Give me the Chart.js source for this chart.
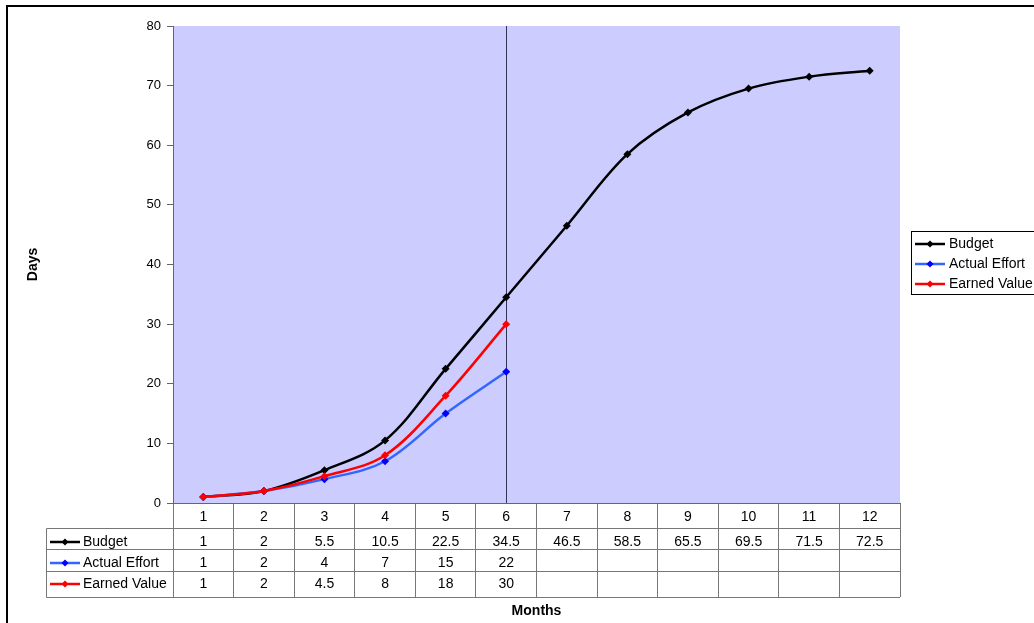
<!DOCTYPE html>
<html>
<head>
<meta charset="utf-8">
<style>
  html, body { margin: 0; padding: 0; background: #ffffff; }
  canvas { display: block; }
</style>
<script src="https://cdn.jsdelivr.net/npm/chart.js@4.4.1/dist/chart.umd.min.js"></script>
</head>
<body>
<canvas id="c" width="1034" height="623"></canvas>
<script>
// ---- data ----
const months = ['1', '2', '3', '4', '5', '6', '7', '8', '9', '10', '11', '12'];
const budget = [1, 2, 5.5, 10.5, 22.5, 34.5, 46.5, 58.5, 65.5, 69.5, 71.5, 72.5];
const actualEffort = [1, 2, 4, 7, 15, 22, null, null, null, null, null, null];
const earnedValue = [1, 2, 4.5, 8, 18, 30, null, null, null, null, null, null];
const seriesNames = ['Budget', 'Actual Effort', 'Earned Value'];
const statusMonth = '6';
const yMin = 0, yMax = 80, yStep = 10;

const FONT = "'Liberation Sans', Arial, sans-serif";
Chart.defaults.font.family = FONT;

const lineColors = ['#000000', '#3366FF', '#FF0000'];
const markColors = ['#000000', '#0000FF', '#FF0000'];
const seriesData = [budget, actualEffort, earnedValue];

function drawDiamond(ctx, x, y, r, color) {
  ctx.beginPath();
  ctx.moveTo(x, y - r);
  ctx.lineTo(x + r, y);
  ctx.lineTo(x, y + r);
  ctx.lineTo(x - r, y);
  ctx.closePath();
  ctx.fillStyle = color;
  ctx.fill();
}
function drawSample(ctx, x0, x1, y, i) {
  ctx.save();
  ctx.strokeStyle = lineColors[i];
  ctx.lineWidth = 2.5;
  ctx.beginPath();
  ctx.moveTo(x0, y);
  ctx.lineTo(x1, y);
  ctx.stroke();
  drawDiamond(ctx, (x0 + x1) / 2, y, 3.5, markColors[i]);
  ctx.restore();
}

const decor = {
  id: 'decor',
  beforeDraw(chart) {
    const {ctx, chartArea: a} = chart;
    ctx.save();
    ctx.fillStyle = '#CCCCFF';
    ctx.fillRect(a.left, a.top, a.right - a.left, a.bottom - a.top);
    ctx.restore();
  },
  beforeDatasetsDraw(chart) {
    const {ctx, chartArea: a, scales} = chart;
    const x = Math.round(scales.x.getPixelForValue(months.indexOf(statusMonth))) + 0.5;
    ctx.save();
    ctx.strokeStyle = '#333355';
    ctx.lineWidth = 1;
    ctx.beginPath();
    ctx.moveTo(x, a.top);
    ctx.lineTo(x, a.bottom);
    ctx.stroke();
    ctx.restore();
  },
  afterDraw(chart) {
    const {ctx, chartArea: a, scales} = chart;
    const xs = scales.x;
    const b = a.bottom;
    const rowLines = [b + 25.5, b + 46.5, b + 68.5, b + 94.5];
    const rowText = [b + 14, b + 39, b + 60, b + 81];
    const tabLeft = 46.5;
    ctx.save();
    // table lines
    ctx.strokeStyle = '#777777';
    ctx.lineWidth = 1;
    ctx.beginPath();
    rowLines.forEach(y => { ctx.moveTo(tabLeft, y); ctx.lineTo(a.right, y); });
    ctx.moveTo(tabLeft, rowLines[0]);
    ctx.lineTo(tabLeft, rowLines[3]);
    ctx.stroke();
    // table text
    ctx.fillStyle = '#000000';
    ctx.font = '14px ' + FONT;
    ctx.textAlign = 'center';
    ctx.textBaseline = 'middle';
    months.forEach((m, i) => {
      const x = xs.getPixelForValue(i);
      ctx.fillText(m, x, rowText[0]);
      seriesData.forEach((arr, s) => {
        const v = arr[i];
        if (v !== null && v !== undefined) ctx.fillText(String(v), x, rowText[s + 1]);
      });
    });
    // row labels
    ctx.textAlign = 'left';
    seriesNames.forEach((name, s) => {
      drawSample(ctx, 50, 80, rowText[s + 1], s);
      ctx.fillStyle = '#000000';
      ctx.fillText(name, 83, rowText[s + 1]);
    });
    // legend
    const lgTop = 231.5, lgBot = 294.5, lgLeft = 911.5;
    ctx.strokeStyle = '#000000';
    ctx.lineWidth = 1;
    ctx.fillStyle = '#ffffff';
    ctx.fillRect(lgLeft, lgTop, 1034 - lgLeft + 5, lgBot - lgTop);
    ctx.strokeRect(lgLeft, lgTop, 1034 - lgLeft + 5, lgBot - lgTop);
    const lgY = [244, 264, 284];
    seriesNames.forEach((name, s) => {
      drawSample(ctx, 915, 945, lgY[s], s);
      ctx.fillStyle = '#000000';
      ctx.fillText(name, 949, lgY[s]);
    });
    // outer border
    ctx.strokeStyle = '#000000';
    ctx.lineWidth = 2;
    ctx.beginPath();
    ctx.moveTo(7, 640);
    ctx.lineTo(7, 6);
    ctx.lineTo(1040, 6);
    ctx.stroke();
    ctx.restore();
  }
};

new Chart(document.getElementById('c'), {
  type: 'line',
  data: {
    labels: months,
    datasets: seriesNames.map((name, s) => ({
      label: name,
      data: seriesData[s],
      borderColor: lineColors[s],
      backgroundColor: markColors[s],
      pointBackgroundColor: markColors[s],
      pointBorderColor: markColors[s],
      pointStyle: 'rectRot',
      pointRadius: 4,
      pointBorderWidth: 0,
      borderWidth: 2.5,
      tension: 0.35,
      spanGaps: false,
      order: 3 - s
    }))
  },
  options: {
    responsive: false,
    animation: false,
    devicePixelRatio: 1,
    layout: { padding: { top: 26, right: 134, bottom: 0, left: 0 } },
    plugins: { legend: { display: false }, tooltip: { enabled: false } },
    scales: {
      x: {
        offset: true,
        ticks: { display: false },
        grid: { drawOnChartArea: false, drawTicks: true, tickLength: 94, color: '#777777', offset: true },
        border: { display: true, color: '#666666' },
        title: { display: true, text: 'Months', color: '#000', font: { size: 14, weight: 'bold' }, padding: { top: 0, bottom: 3 } },
        afterFit(scale) { scale.height = 120; }
      },
      y: {
        min: yMin, max: yMax,
        ticks: { stepSize: yStep, color: '#000', font: { size: 13 }, padding: 6 },
        grid: { drawOnChartArea: false, drawTicks: true, tickLength: 6, color: '#666666' },
        border: { display: true, color: '#666666' },
        title: { display: true, text: 'Days', color: '#000', font: { size: 14, weight: 'bold' }, padding: { top: 25, bottom: 0 } },
        afterFit(scale) { scale.width = 173; }
      }
    }
  },
  plugins: [decor]
});
</script>
</body>
</html>
